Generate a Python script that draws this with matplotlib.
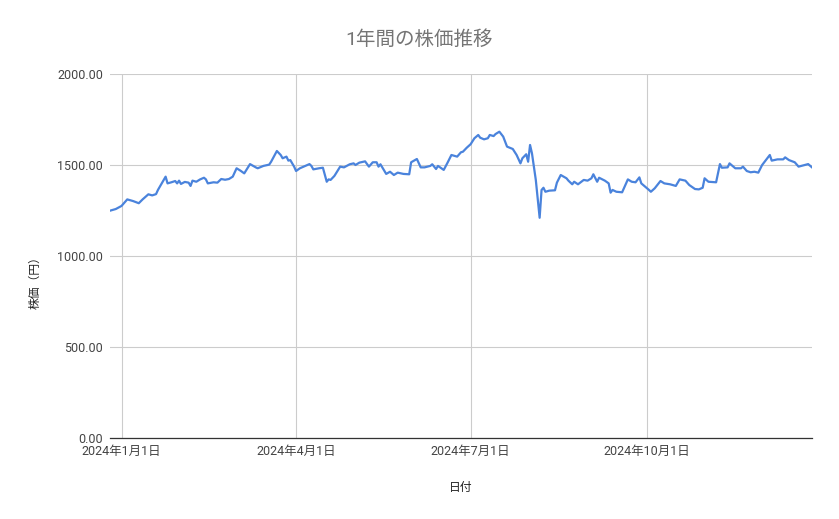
import pandas as pd
import matplotlib
matplotlib.use("Agg")
import matplotlib.pyplot as plt

plt.rcParams['font.family'] = ['Roboto', 'Noto Sans CJK JP', 'DejaVu Sans']

title = "1年間の株価推移"
x_label = "日付"
y_label = "株価（円）"

dates = [
    "2023-12-26", "2023-12-29", "2024-01-01", "2024-01-04", "2024-01-07", "2024-01-10",
    "2024-01-12", "2024-01-15", "2024-01-17", "2024-01-19", "2024-01-20", "2024-01-22",
    "2024-01-24", "2024-01-25", "2024-01-27", "2024-01-29", "2024-01-30", "2024-01-31",
    "2024-02-01", "2024-02-03", "2024-02-05", "2024-02-06", "2024-02-07", "2024-02-09",
    "2024-02-11", "2024-02-13", "2024-02-14", "2024-02-15", "2024-02-18", "2024-02-20",
    "2024-02-22", "2024-02-24", "2024-02-26", "2024-02-28", "2024-03-01", "2024-03-03",
    "2024-03-05", "2024-03-08", "2024-03-11", "2024-03-12", "2024-03-15", "2024-03-18",
    "2024-03-19", "2024-03-22", "2024-03-24", "2024-03-25", "2024-03-27", "2024-03-28",
    "2024-03-29", "2024-03-31", "2024-04-01", "2024-04-03", "2024-04-06", "2024-04-08",
    "2024-04-09", "2024-04-10", "2024-04-13", "2024-04-15", "2024-04-17", "2024-04-18",
    "2024-04-19", "2024-04-21", "2024-04-24", "2024-04-26", "2024-04-29", "2024-05-01",
    "2024-05-02", "2024-05-04", "2024-05-07", "2024-05-09", "2024-05-11", "2024-05-13",
    "2024-05-14", "2024-05-15", "2024-05-18", "2024-05-20", "2024-05-22", "2024-05-24",
    "2024-05-27", "2024-05-30", "2024-05-31", "2024-06-03", "2024-06-05", "2024-06-07",
    "2024-06-10", "2024-06-11", "2024-06-13", "2024-06-14", "2024-06-17", "2024-06-19",
    "2024-06-21", "2024-06-24", "2024-06-26", "2024-06-27", "2024-06-29", "2024-07-01",
    "2024-07-03", "2024-07-05", "2024-07-06", "2024-07-08", "2024-07-10", "2024-07-11",
    "2024-07-13", "2024-07-14", "2024-07-16", "2024-07-18", "2024-07-20", "2024-07-23",
    "2024-07-25", "2024-07-27", "2024-07-28", "2024-07-30", "2024-07-31", "2024-08-01",
    "2024-08-02", "2024-08-04", "2024-08-06", "2024-08-07", "2024-08-08", "2024-08-09",
    "2024-08-11", "2024-08-14", "2024-08-15", "2024-08-17", "2024-08-20", "2024-08-21",
    "2024-08-23", "2024-08-24", "2024-08-26", "2024-08-29", "2024-08-31", "2024-09-02",
    "2024-09-03", "2024-09-05", "2024-09-06", "2024-09-09", "2024-09-11", "2024-09-12",
    "2024-09-13", "2024-09-15", "2024-09-18", "2024-09-21", "2024-09-23", "2024-09-25",
    "2024-09-27", "2024-09-28", "2024-09-30", "2024-10-02", "2024-10-03", "2024-10-05",
    "2024-10-08", "2024-10-10", "2024-10-13", "2024-10-16", "2024-10-18", "2024-10-21",
    "2024-10-23", "2024-10-26", "2024-10-28", "2024-10-30", "2024-10-31", "2024-11-02",
    "2024-11-06", "2024-11-08", "2024-11-09", "2024-11-12", "2024-11-13", "2024-11-16",
    "2024-11-19", "2024-11-20", "2024-11-22", "2024-11-24", "2024-11-26", "2024-11-28",
    "2024-11-30", "2024-12-04", "2024-12-05", "2024-12-08", "2024-12-11", "2024-12-12",
    "2024-12-14", "2024-12-17", "2024-12-19", "2024-12-24", "2024-12-26",
]

prices = [
    1249, 1258, 1275, 1311, 1302, 1290,
    1311, 1339, 1333, 1340, 1363, 1399,
    1436, 1399, 1405, 1412, 1399, 1414,
    1396, 1407, 1403, 1385, 1414, 1408,
    1421, 1430, 1421, 1399, 1405, 1403,
    1423, 1419, 1423, 1436, 1482, 1469,
    1454, 1505, 1487, 1482, 1495, 1502,
    1518, 1577, 1555, 1537, 1546, 1524,
    1527, 1491, 1467, 1482, 1496, 1505,
    1495, 1476, 1482, 1485, 1408, 1421,
    1418, 1440, 1491, 1487, 1504, 1509,
    1500, 1513, 1520, 1491, 1515, 1515,
    1491, 1504, 1451, 1463, 1445, 1458,
    1451, 1449, 1515, 1533, 1487, 1487,
    1495, 1504, 1478, 1495, 1473, 1513,
    1555, 1546, 1570, 1573, 1595, 1614,
    1647, 1665, 1650, 1641, 1647, 1665,
    1659, 1670, 1683, 1656, 1601, 1588,
    1555, 1509, 1537, 1559, 1518, 1610,
    1564, 1418, 1210, 1363, 1375, 1353,
    1359, 1361, 1403, 1445, 1427, 1414,
    1394, 1408, 1394, 1418, 1414, 1427,
    1449, 1408, 1430, 1414, 1399, 1348,
    1363, 1353, 1350, 1421, 1408, 1405,
    1432, 1399, 1381, 1363, 1353, 1372,
    1412, 1399, 1394, 1385, 1421, 1414,
    1390, 1368, 1366, 1375, 1427, 1408,
    1405, 1505, 1485, 1487, 1509, 1482,
    1482, 1491, 1467, 1460, 1463, 1458,
    1500, 1555, 1524, 1531, 1531, 1542,
    1527, 1515, 1491, 1505, 1487,
]

x_tick_dates = ["2024-01-01", "2024-04-01", "2024-07-01", "2024-10-01"]
x_tick_labels = ["2024年1月1日", "2024年4月1日", "2024年7月1日", "2024年10月1日"]
y_ticks = [0, 500, 1000, 1500, 2000]
y_tick_labels = ["0.00", "500.00", "1000.00", "1500.00", "2000.00"]

x = pd.to_datetime(dates)

fig = plt.figure(figsize=(8.39, 5.19), dpi=100)
ax = fig.add_axes([110 / 839, 81 / 519, 702 / 839, 364 / 519])

ax.plot(x, prices, color="#4a83dc", linewidth=1.6, solid_joinstyle="round")

ax.set_xlim(x[0], x[-1])
ax.set_ylim(0, 2000)
ax.set_xticks(pd.to_datetime(x_tick_dates))
ax.set_xticklabels(x_tick_labels)
ax.set_yticks(y_ticks)
ax.set_yticklabels(y_tick_labels)

ax.grid(True, color="#cccccc", linewidth=0.8)
ax.set_axisbelow(True)
for side in ["top", "right", "left"]:
    ax.spines[side].set_visible(False)
ax.spines["bottom"].set_color("#333333")
ax.spines["bottom"].set_linewidth(0.9)
ax.spines["bottom"].set_zorder(3)

ax.tick_params(axis="both", length=0, labelsize=9, labelcolor="#444444")
ax.tick_params(axis="y", pad=5)
ax.tick_params(axis="x", pad=5)

fig.text(419 / 839, 1 - 40 / 519, title, ha="center", va="center",
         fontsize=14, color="#757575")
fig.text(461 / 839, 1 - 487 / 519, x_label, ha="center", va="center",
         fontsize=8.5, color="#222222")
fig.text(35 / 839, 1 - 280 / 519, y_label, ha="center", va="center",
         rotation=90, fontsize=8.5, color="#222222")

fig.savefig("out.png", dpi=100, facecolor="white")
